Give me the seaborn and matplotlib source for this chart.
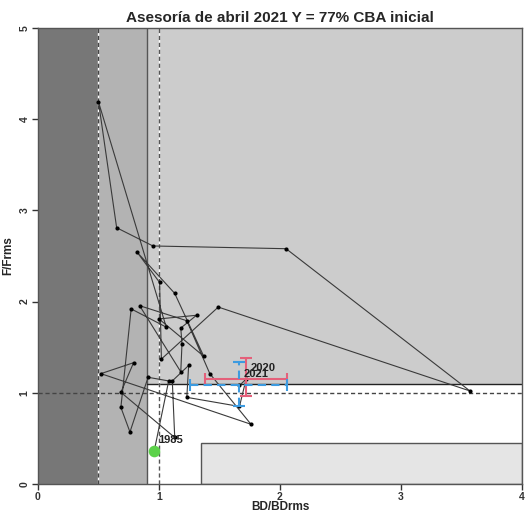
import numpy as np
import pandas as pd
import matplotlib
matplotlib.use("Agg")
import matplotlib.pyplot as plt
import seaborn as sns
from matplotlib.patches import Rectangle

# Datos (trayectoria BD/BDrms vs F/Frms, 1985-2021)
anios = list(range(1985, 2022))
bd = [0.96, 1.08, 0.91, 0.76, 0.685, 0.77, 1.06, 0.50, 0.65, 0.95,
      2.05, 3.57, 1.49, 1.02, 1.005, 0.82, 1.13, 1.37, 1.00, 1.31,
      1.18, 1.19, 1.18, 0.84, 1.23, 1.42, 1.76, 0.52, 0.79, 0.685,
      1.13, 1.11, 1.245, 1.23, 1.665, 1.72, 1.665]
ff = [0.36, 1.13, 1.17, 0.57, 0.84, 1.92, 1.72, 4.19, 2.81, 2.61,
      2.58, 1.02, 1.94, 1.37, 2.21, 2.54, 2.09, 1.40, 1.81, 1.85,
      1.71, 1.535, 1.23, 1.955, 1.79, 1.21, 0.655, 1.21, 1.33, 1.005,
      0.51, 1.13, 1.30, 0.95, 0.85, 1.15, 1.08]

# Intervalos de los dos ultimos anios
ic_2020_x = [1.38, 2.06]
ic_2020_y = [0.96, 1.38]
ic_2021_x = [1.26, 2.06]
ic_2021_y = [0.85, 1.34]

df = pd.DataFrame({"anio": anios, "bd": bd, "ff": ff})

sns.set_style("white")
plt.rcParams["font.family"] = ["Liberation Sans", "DejaVu Sans"]

fig = plt.figure(figsize=(5.27, 5.14), dpi=100)
ax = fig.add_axes([0.0721, 0.0584, 0.9184, 0.8871])
ax.set_xlim(0, 4)
ax.set_ylim(0, 5)

# Zonas de estado
ax.add_patch(Rectangle((0, 0), 0.5, 5, facecolor="#777777", edgecolor="none", zorder=0))
ax.add_patch(Rectangle((0.5, 0), 0.4, 5, facecolor="#b3b3b3", edgecolor="none", zorder=0))
ax.add_patch(Rectangle((0.9, 1.1), 3.1, 3.9, facecolor="#cccccc", edgecolor="none", zorder=0))
ax.add_patch(Rectangle((1.35, 0), 2.65, 0.45, facecolor="#e5e5e5", edgecolor="#555555", lw=1, zorder=1))
ax.plot([0.9, 0.9], [0, 5], color="#555555", lw=1, zorder=1)
ax.plot([0.9, 4], [1.1, 1.1], color="#222222", lw=1, zorder=1)

# Lineas de referencia
ax.axvline(0.5, color="white", lw=1, zorder=1)
ax.axvline(0.5, color="#444444", lw=1, ls=(0, (3, 2)), zorder=1)
ax.axvline(1.0, color="white", lw=1, zorder=1)
ax.axvline(1.0, color="#555555", lw=1, ls=(0, (3, 2)), zorder=1)
ax.axhline(1.0, color="#444444", lw=1, ls=(0, (3, 2)), zorder=1)

# Trayectoria
sns.lineplot(data=df, x="bd", y="ff", sort=False, estimator=None, color="#3a3a3a",
             lw=0.8, ax=ax, zorder=3)
sns.scatterplot(data=df.iloc[1:], x="bd", y="ff", color="black", s=9, linewidth=0,
                ax=ax, zorder=4)

# Intervalos 2020 (rojo) y 2021 (azul)
fila20 = df[df["anio"] == 2020].iloc[0]
fila21 = df[df["anio"] == 2021].iloc[0]
eb20 = ax.errorbar(fila20["bd"], fila20["ff"],
                   xerr=[[fila20["bd"] - ic_2020_x[0]], [ic_2020_x[1] - fila20["bd"]]],
                   yerr=[[fila20["ff"] - ic_2020_y[0]], [ic_2020_y[1] - fila20["ff"]]],
                   fmt="none", ecolor="#e4607a", elinewidth=1.5, capsize=4, capthick=1.5, zorder=5)
eb21 = ax.errorbar(fila21["bd"], fila21["ff"],
                   xerr=[[fila21["bd"] - ic_2021_x[0]], [ic_2021_x[1] - fila21["bd"]]],
                   yerr=[[fila21["ff"] - ic_2021_y[0]], [ic_2021_y[1] - fila21["ff"]]],
                   fmt="none", ecolor="#3d9be0", elinewidth=1.5, capsize=4, capthick=1.5, zorder=5)
for lc in eb21[2]:
    lc.set_linestyle((0, (4, 2.5)))

# Punto inicial
sns.scatterplot(data=df.iloc[:1], x="bd", y="ff", color="#5cd24a", s=70, linewidth=0,
                ax=ax, zorder=6)

for a in [1985, 2020, 2021]:
    fila = df[df["anio"] == a].iloc[0]
    ax.annotate(str(a), (fila["bd"], fila["ff"]), xytext=(3, 8), textcoords="offset points",
                ha="left", va="center", fontsize=8, fontweight="bold", color="#222222", zorder=7)

ax.set_xticks([0, 1, 2, 3, 4])
ax.set_yticks([0, 1, 2, 3, 4, 5])
ax.tick_params(axis="both", which="both", direction="out", length=4, width=1,
               colors="#333333", labelsize=7.5, bottom=True, left=True, pad=2)
for lab in ax.get_xticklabels():
    lab.set_fontweight("bold")
for lab in ax.get_yticklabels():
    lab.set_fontweight("bold")
    lab.set_rotation(90)
    lab.set_va("center")
for s in ax.spines.values():
    s.set_color("#555555")
    s.set_linewidth(1)

ax.set_xlabel("BD/BDrms", fontsize=8.5, fontweight="bold", labelpad=-1)
ax.set_ylabel("F/Frms", fontsize=8.5, fontweight="bold", labelpad=4)
ax.set_title("Asesoría de abril 2021 Y = 77% CBA inicial", fontsize=11, fontweight="bold", pad=4)

fig.savefig("out.png", dpi=100)
plt.close()
